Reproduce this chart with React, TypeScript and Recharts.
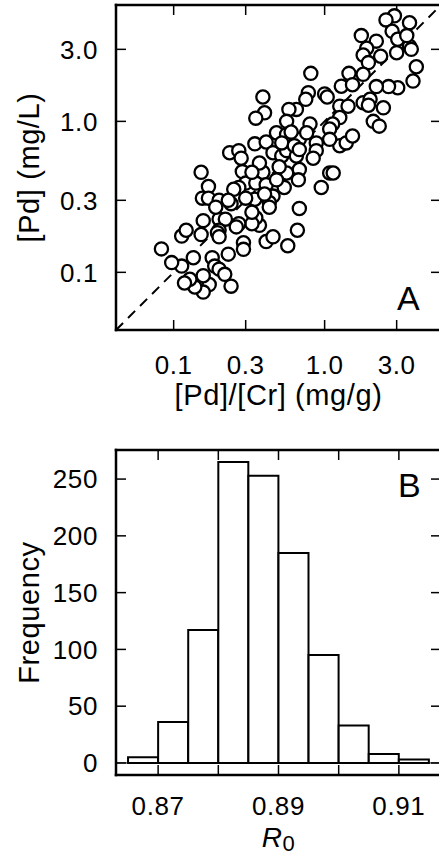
import React from 'react';
import {
  ScatterChart,
  Scatter,
  ComposedChart,
  Bar,
  XAxis,
  YAxis,
  ReferenceLine,
  Label
} from 'recharts';

// Panel A: creatinine-adjusted urine Pd (x) vs plasma Pd (y)
const pdCr = [
  2.9, 2.55, 3.65, 2.8, 3.05, 1.75, 2.2, 1.9, 1.8, 2.35, 1.95, 3.0, 3.65, 3.75, 4.05, 3.85,
  3.05, 2.65, 2.2, 1.45, 1.29, 1.53, 1.8, 0.81, 0.78, 1.0, 1.04, 0.75, 0.65, 0.58, 1.26, 1.43,
  1.8, 2.0, 1.95, 2.45, 2.1, 2.3, 1.26, 1.13, 1.08, 0.8, 0.56, 0.48, 0.56, 0.68, 0.88, 1.26,
  1.39, 1.53, 0.88, 0.84, 0.39, 0.4, 0.35, 0.235, 0.27, 0.28, 0.345, 0.41, 0.455, 0.52, 0.56, 0.65,
  0.68, 0.67, 0.56, 0.5, 0.39, 0.37, 0.285, 0.3, 0.35, 0.41, 0.455, 0.43, 0.43, 0.54, 0.345, 0.27,
  0.25, 0.152, 0.17, 0.155, 0.17, 0.2, 0.24, 1.08, 1.14, 0.95, 0.68, 0.66, 0.57, 0.41, 0.455, 0.37,
  0.35, 0.33, 0.27, 0.26, 0.2, 0.22, 0.2, 0.195, 0.2, 0.29, 0.29, 0.23, 0.18, 0.187, 0.2, 0.218,
  0.24, 0.172, 0.157, 0.157, 0.138, 0.128, 0.118, 0.113, 0.135, 0.097, 0.083, 0.113, 0.121, 0.157, 0.152,
  0.52, 0.6, 0.33, 0.4, 0.3, 0.33, 0.63, 0.76, 0.48, 0.23, 0.19, 0.68, 1.08, 3.5
];
const pdPlasma = [
  5.0, 4.7, 4.5, 3.95, 3.5, 3.7, 3.4, 3.05, 2.75, 2.7, 2.45, 2.85, 3.15, 3.0, 2.3, 1.85,
  1.67, 1.7, 1.7, 2.08, 1.71, 1.75, 2.05, 2.08, 1.55, 1.52, 1.45, 1.4, 1.2, 1.2, 1.26, 1.26,
  1.33, 1.4, 1.28, 1.23, 1.0, 0.93, 1.06, 0.96, 0.89, 0.96, 1.0, 0.84, 0.82, 0.76, 0.72, 0.69,
  0.72, 0.8, 0.64, 0.57, 1.45, 1.14, 1.05, 0.62, 0.64, 0.57, 0.71, 0.73, 0.62, 0.59, 0.64, 0.59,
  0.48, 0.41, 0.455, 0.5, 0.46, 0.53, 0.465, 0.39, 0.39, 0.38, 0.32, 0.29, 0.27, 0.365, 0.305, 0.365,
  0.355, 0.46, 0.37, 0.31, 0.31, 0.3, 0.285, 0.455, 0.455, 0.365, 0.265, 0.19, 0.15, 0.16, 0.172, 0.205,
  0.23, 0.21, 0.21, 0.2, 0.225, 0.225, 0.19, 0.183, 0.172, 0.157, 0.142, 0.132, 0.125, 0.11, 0.105, 0.097,
  0.081, 0.083, 0.074, 0.095, 0.08, 0.09, 0.085, 0.11, 0.125, 0.116, 0.143, 0.174, 0.19, 0.22, 0.178,
  0.72, 0.85, 0.46, 0.33, 0.31, 0.25, 0.69, 0.84, 0.41, 0.3, 0.27, 0.65, 0.76, 3.7
];
const logTicks = [0.1, 0.3, 1, 3];
const logDomain = [0.0415, 5.9];

// Panel B: bootstrap distribution of R0
const binMid = [0.8675, 0.8725, 0.8775, 0.8825, 0.8875, 0.8925, 0.8975, 0.9025, 0.9075, 0.9125];
const freq = [5, 36, 117, 265, 253, 185, 95, 33, 8, 3];
const r0Ticks = [0.87, 0.88, 0.89, 0.9, 0.91];
const r0Labelled = [0.87, 0.89, 0.91];
const freqTicks = [0, 50, 100, 150, 200, 250];
const freqDomain = [-10.6, 275.6];
const r0Domain = [0.863, 0.917];

const FONT = '"Liberation Sans", Arial, Helvetica, sans-serif';
const frame = { stroke: '#000', strokeWidth: 2.5, strokeLinecap: 'square' };
const tickLine = { stroke: '#000', strokeWidth: 1.5 };
const tickFont = { fill: '#000', fontSize: 26 };
const noLabel = () => '';

const points = pdCr.map((x, i) => ({ x, y: pdPlasma[i] }));
const bins = binMid.map((mid, i) => ({ mid, count: freq[i] }));

const Ring = (props: any) => (
  <circle cx={props.cx} cy={props.cy} r={6.6} fill="#fff" stroke="#000" strokeWidth={2.3} />
);
const Nothing = () => null;

const R0Title = (props: any) => {
  const vb = props.viewBox;
  return (
    <text x={vb.x + vb.width / 2} y={vb.y + vb.height - 9} textAnchor="middle" fontSize={28} fill="#000">
      <tspan fontStyle="italic">R</tspan>
      <tspan fontSize={22} dy={4}>0</tspan>
    </text>
  );
};

const App: React.FC = () => {
  return (
    <div
      style={{
        position: 'absolute',
        left: 0,
        top: 0,
        width: 439,
        height: 856,
        overflow: 'hidden',
        background: '#fff',
        fontFamily: FONT,
        letterSpacing: 0.6
      }}
    >
      <div style={{ position: 'absolute', left: 0, top: 0 }}>
        <ScatterChart width={460} height={440} margin={{ top: 4, right: 18, bottom: 0, left: 0 }}>
          <XAxis
            xAxisId="b"
            type="number"
            dataKey="x"
            scale="log"
            domain={logDomain}
            allowDataOverflow
            ticks={logTicks}
            interval={0}
            tickFormatter={(v) => v.toFixed(1)}
            height={110}
            tickSize={-10}
            tickMargin={36}
            axisLine={frame}
            tickLine={tickLine}
            tick={tickFont}
          >
            <Label value="[Pd]/[Cr] (mg/g)" position="insideBottom" offset={35} fontSize={29} fill="#000" />
          </XAxis>
          <XAxis
            xAxisId="t"
            orientation="top"
            type="number"
            dataKey="x"
            scale="log"
            domain={logDomain}
            allowDataOverflow
            ticks={logTicks}
            interval={0}
            height={1}
            tickSize={-10}
            tickFormatter={noLabel}
            axisLine={frame}
            tickLine={tickLine}
          />
          <YAxis
            yAxisId="l"
            type="number"
            dataKey="y"
            scale="log"
            domain={logDomain}
            allowDataOverflow
            ticks={logTicks}
            interval={0}
            tickFormatter={(v) => v.toFixed(1)}
            width={116}
            tickSize={-10}
            tickMargin={28}
            axisLine={frame}
            tickLine={tickLine}
            tick={tickFont}
          >
            <Label
              value="[Pd] (mg/L)"
              angle={-90}
              position="insideLeft"
              offset={29}
              fontSize={29}
              fill="#000"
              style={{ textAnchor: 'middle' }}
            />
          </YAxis>
          <YAxis
            yAxisId="r"
            orientation="right"
            type="number"
            dataKey="y"
            scale="log"
            domain={logDomain}
            allowDataOverflow
            ticks={logTicks}
            interval={0}
            width={1}
            tickSize={-10}
            tickFormatter={noLabel}
            axisLine={frame}
            tickLine={tickLine}
          />
          <Scatter xAxisId="t" yAxisId="r" data={points} shape={Nothing} isAnimationActive={false} />
          <Scatter xAxisId="b" yAxisId="l" data={points} shape={Ring} isAnimationActive={false} />
          <ReferenceLine
            xAxisId="b"
            yAxisId="l"
            segment={[
              { x: logDomain[0], y: logDomain[0] },
              { x: logDomain[1], y: logDomain[1] }
            ]}
            stroke="#000"
            strokeWidth={2}
            strokeDasharray="10 7"
          />
        </ScatterChart>
      </div>

      <div style={{ position: 'absolute', left: 0, top: 440 }}>
        <ComposedChart
          width={460}
          height={416}
          data={bins}
          margin={{ top: 9, right: 18, bottom: 0, left: 0 }}
          barCategoryGap={0}
          barGap={0}
        >
          <XAxis
            xAxisId="b"
            type="number"
            dataKey="mid"
            domain={r0Domain}
            allowDataOverflow
            ticks={r0Ticks}
            interval={0}
            tickFormatter={(v) => (r0Labelled.some((t) => Math.abs(t - v) < 1e-6) ? v.toFixed(2) : '')}
            height={81}
            tickSize={-10}
            tickMargin={32}
            axisLine={frame}
            tickLine={tickLine}
            tick={tickFont}
          >
            <Label content={R0Title} position="insideBottom" />
          </XAxis>
          <XAxis
            xAxisId="t"
            orientation="top"
            type="number"
            dataKey="mid"
            domain={r0Domain}
            allowDataOverflow
            ticks={r0Ticks}
            interval={0}
            height={1}
            tickSize={-10}
            tickFormatter={noLabel}
            axisLine={frame}
            tickLine={tickLine}
          />
          <YAxis
            yAxisId="l"
            type="number"
            domain={freqDomain}
            allowDataOverflow
            ticks={freqTicks}
            interval={0}
            width={116}
            tickSize={-10}
            tickMargin={28}
            axisLine={frame}
            tickLine={tickLine}
            tick={tickFont}
          >
            <Label
              value="Frequency"
              angle={-90}
              position="insideLeft"
              offset={29}
              fontSize={29}
              fill="#000"
              style={{ textAnchor: 'middle' }}
            />
          </YAxis>
          <YAxis
            yAxisId="r"
            orientation="right"
            type="number"
            domain={freqDomain}
            allowDataOverflow
            ticks={freqTicks}
            interval={0}
            width={1}
            tickSize={-10}
            tickFormatter={noLabel}
            axisLine={frame}
            tickLine={tickLine}
          />
          <ReferenceLine xAxisId="b" yAxisId="l" y={0} stroke="#000" strokeWidth={1} />
          <Bar
            xAxisId="t"
            yAxisId="r"
            dataKey="count"
            fill="none"
            stroke="none"
            barSize={30}
            isAnimationActive={false}
          />
          <Bar
            xAxisId="b"
            yAxisId="l"
            dataKey="count"
            fill="#fff"
            stroke="#000"
            strokeWidth={2}
            barSize={30}
            isAnimationActive={false}
          />
        </ComposedChart>
      </div>

      <svg
        width={439}
        height={856}
        style={{ position: 'absolute', left: 0, top: 0, pointerEvents: 'none' }}
      >
        <text x={397} y={310} fontSize={34} fill="#000">A</text>
        <text x={398} y={497} fontSize={34} fill="#000">B</text>
      </svg>
    </div>
  );
};

export default App;
